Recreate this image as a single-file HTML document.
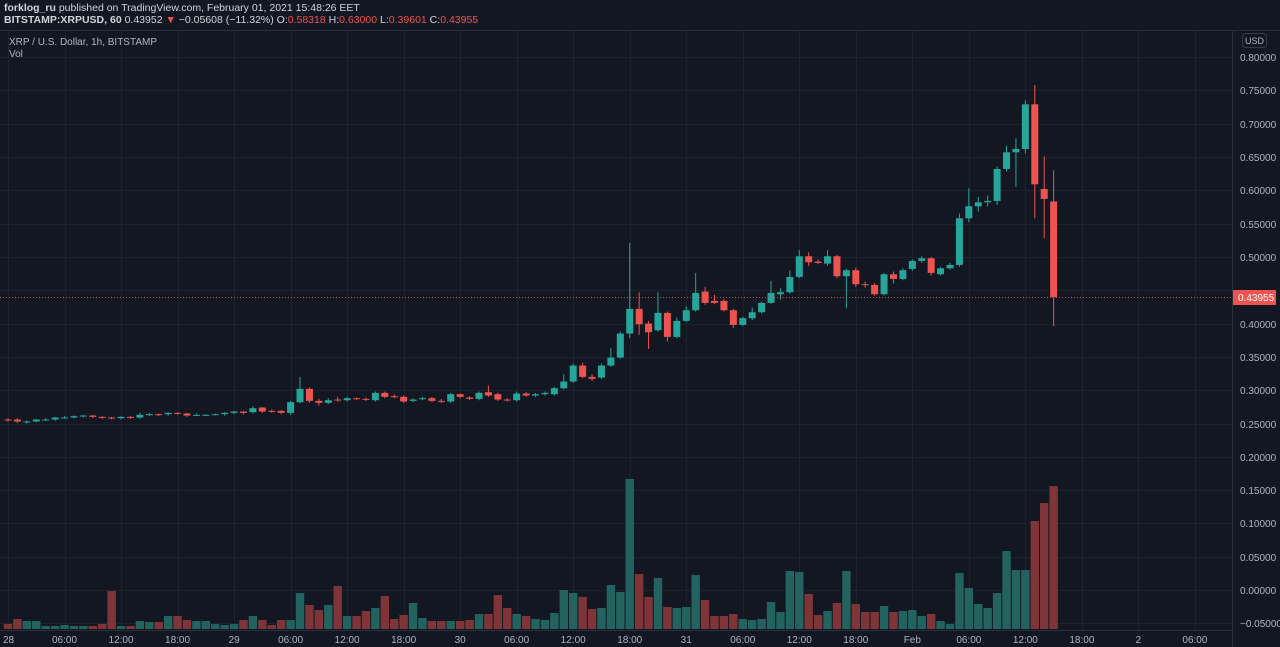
<!DOCTYPE html>
<html><head><meta charset="utf-8"><style>
html,body{margin:0;padding:0;background:#131722;width:1280px;height:647px;overflow:hidden}
svg{display:block;font-family:"Liberation Sans",sans-serif}
</style></head><body>
<svg id="chart" width="1280" height="647" viewBox="0 0 1280 647" xmlns="http://www.w3.org/2000/svg">
<rect x="0" y="0" width="1280" height="647" fill="#131722"/>
<g id="grid"></g>
<g id="vols"></g>
<g id="candles"></g>
<line x1="0" y1="30.5" x2="1280" y2="30.5" stroke="#2a2e39"/>
<line x1="1232.5" y1="30" x2="1232.5" y2="647" stroke="#2a2e39"/>
<line x1="0" y1="630.5" x2="1232" y2="630.5" stroke="#2a2e39"/>
<g id="yaxis"></g>
<g id="xaxis"></g>
<text x="4" y="11" font-size="10.5" fill="#d1d4dc"><tspan font-weight="bold">forklog_ru</tspan> published on TradingView.com, February 01, 2021 15:48:26 EET</text>
<text x="4" y="23" font-size="10.5" fill="#d1d4dc"><tspan font-weight="bold">BITSTAMP:XRPUSD, 60</tspan> 0.43952 <tspan fill="#ef5350">▼</tspan> −0.05608 (−11.32%) O:<tspan fill="#ef5350">0.58318</tspan> H:<tspan fill="#ef5350">0.63000</tspan> L:<tspan fill="#ef5350">0.39601</tspan> C:<tspan fill="#ef5350">0.43955</tspan></text>
<text x="9" y="45" font-size="10" fill="#b2b5be">XRP / U.S. Dollar, 1h, BITSTAMP</text>
<text x="9" y="57" font-size="10" fill="#b2b5be">Vol</text>
<rect x="1242.5" y="33.5" width="24" height="14" rx="3" fill="none" stroke="#363a45"/>
<text x="1254.5" y="44" font-size="9" fill="#b2b5be" text-anchor="middle">USD</text>
</svg>
<script>
const opens=[.256,.256,.252,.253,.256,.256,.259,.259,.261,.262,.260,.259,.258,.260,.259,.263,.264,.264,.266,.265,.262,.263,.263,.264,.266,.268,.267,.274,.269,.269,.266,.282,.302,.284,.281,.286,.285,.288,.287,.285,.296,.291,.290,.284,.287,.288,.284,.283,.294,.289,.287,.297,.294,.286,.285,.295,.292,.294,.294,.303,.313,.337,.320,.319,.337,.349,.385,.422,.400,.390,.416,.380,.404,.420,.448,.434,.434,.420,.398,.408,.417,.431,.444,.447,.470,.501,.493,.490,.501,.471,.480,.459,.458,.444,.474,.467,.482,.494,.498,.474,.483,.488,.558,.576,.582,.584,.632,.657,.662,.729,.602,.58318];
const closes=[.255,.253,.253,.256,.256,.259,.259,.261,.262,.260,.259,.258,.260,.259,.263,.264,.263,.266,.265,.262,.263,.263,.264,.266,.268,.266,.273,.268,.268,.266,.282,.302,.284,.281,.285,.285,.288,.287,.286,.296,.290,.290,.283,.286,.288,.284,.283,.294,.290,.287,.296,.292,.286,.285,.295,.292,.294,.296,.303,.313,.337,.320,.317,.337,.349,.385,.422,.399,.387,.416,.380,.404,.420,.446,.431,.431,.420,.398,.408,.417,.431,.446,.447,.470,.501,.492,.491,.501,.471,.480,.459,.458,.444,.474,.467,.480,.494,.498,.476,.483,.488,.558,.576,.582,.584,.632,.657,.662,.729,.609,.587,.43955];
const highs=[.258,.258,.255,.257,.258,.260,.261,.262,.263,.263,.261,.260,.261,.261,.266,.266,.265,.267,.267,.266,.265,.264,.265,.267,.269,.269,.276,.275,.271,.270,.284,.320,.304,.287,.288,.290,.290,.289,.289,.298,.298,.294,.292,.288,.290,.290,.287,.296,.295,.291,.298,.307,.296,.288,.298,.297,.296,.298,.305,.324,.340,.341,.324,.340,.363,.388,.521,.447,.404,.447,.418,.409,.426,.476,.455,.443,.437,.422,.410,.424,.433,.464,.453,.480,.510,.507,.496,.510,.503,.482,.484,.463,.461,.476,.478,.483,.496,.501,.500,.485,.491,.565,.603,.590,.592,.636,.667,.678,.735,.758,.651,.630];
const lows=[.253,.251,.250,.252,.254,.254,.257,.258,.259,.258,.257,.256,.256,.257,.257,.261,.261,.262,.263,.260,.261,.261,.262,.262,.264,.264,.265,.266,.266,.264,.263,.280,.281,.277,.279,.283,.283,.285,.284,.283,.288,.288,.281,.282,.285,.282,.281,.281,.288,.285,.285,.290,.284,.283,.283,.290,.290,.292,.292,.301,.311,.318,.314,.317,.335,.347,.378,.383,.362,.388,.373,.378,.402,.418,.428,.429,.418,.393,.396,.405,.415,.429,.436,.445,.468,.486,.489,.487,.468,.423,.455,.454,.442,.442,.460,.465,.479,.491,.472,.472,.481,.485,.552,.568,.576,.578,.628,.605,.655,.558,.528,.39601];
const volumes=[5,10,8,8,3,3,4,3,3,3,5,38,3,3,8,7,7,13,13,9,8,8,5,4,5,9,13,9,4,9,9,36,24,19,24,43,13,13,18,21,33,10,14,26,11,8,8,8,8,9,15,15,34,21,15,13,10,9,16,39,36,32,20,21,44,37,150,55,32,51,22,21,22,54,29,13,13,15,10,9,10,27,17,58,57,35,14,18,26,58,25,17,17,23,17,18,19,13,15,8,5,56,41,25,21,36,78,59,59,108,126,143];
const priceTicks=[0.80,0.75,0.70,0.65,0.60,0.55,0.50,0.45,0.40,0.35,0.30,0.25,0.20,0.15,0.10,0.05,0.00,-0.05];
const timeLabels=["28","06:00","12:00","18:00","29","06:00","12:00","18:00","30","06:00","12:00","18:00","31","06:00","12:00","18:00","Feb","06:00","12:00","18:00","2","06:00"];
const lastPrice=0.43955;

const NS="http://www.w3.org/2000/svg";
const yP=p=>57+(0.80-p)*666.4;
const xI=i=>8+i*9.42;
const yV=v=>629-v/150*150;
function mk(tag,attrs,parent){const e=document.createElementNS(NS,tag);for(const k in attrs)e.setAttribute(k,attrs[k]);parent.appendChild(e);return e;}
const grid=document.getElementById('grid'),ya=document.getElementById('yaxis'),xa=document.getElementById('xaxis');
const cg=document.getElementById('candles'),vg=document.getElementById('vols');

priceTicks.forEach(p=>{
  const y=Math.round(yP(p))+0.5;
  const l=mk('line',{x1:0,x2:1232,y1:y,y2:y,stroke:'#1e222d'},grid);
  
  
  if(Math.abs(p-0.45)<1e-9)return;
  const t=mk('text',{x:1240,y:y+3.5,'font-size':10,fill:'#b2b5be'},ya);
  t.textContent=(p<0?'−':'')+Math.abs(p).toFixed(5);
  
  
});
timeLabels.forEach((s,k)=>{
  const x=xI(k*6);
  const l=mk('line',{x1:Math.round(x)+0.5,x2:Math.round(x)+0.5,y1:31,y2:630,stroke:'#1e222d'},grid);
  
  
  const t=mk('text',{x:x,y:643,'font-size':10,fill:'#b2b5be','text-anchor':k===0?'start':'middle'},xa);
  if(k===0)t.setAttribute('x',3);
  t.textContent=s;
  
  
});

opens.forEach((o,i)=>{
  const c=closes[i],up=c>=o,x=xI(i);
  const v=mk('rect',{x:x-4.2,y:yV(volumes[i]),width:8.4,height:629-yV(volumes[i]),fill:up?'#22635f':'#7f3538'},vg);
  
  
  const col=up?'#26a69a':'#ef5350';
  const w=mk('line',{x1:x,x2:x,y1:yP(highs[i]),y2:yP(lows[i]),stroke:col,'stroke-width':1},cg);
  
  
  const top=yP(Math.max(o,c)),bot=yP(Math.min(o,c));
  const b=mk('rect',{x:x-3.5,y:top,width:7,height:Math.max(1,bot-top),fill:col},cg);
  
  
});

const ly=Math.round(yP(lastPrice))+0.5;
const pl=mk('line',{x1:0,x2:1232,y1:ly,y2:ly,stroke:'#ef5350','stroke-width':1,'stroke-dasharray':'1 2',opacity:0.8},cg);


const lb=mk('rect',{x:1233,y:ly-7.5,width:43,height:15,fill:'#ef5350'},ya);


const lt=mk('text',{x:1238,y:ly+3.5,'font-size':10,fill:'#ffffff'},ya);
lt.textContent=lastPrice.toFixed(5);


</script>
</body></html>
